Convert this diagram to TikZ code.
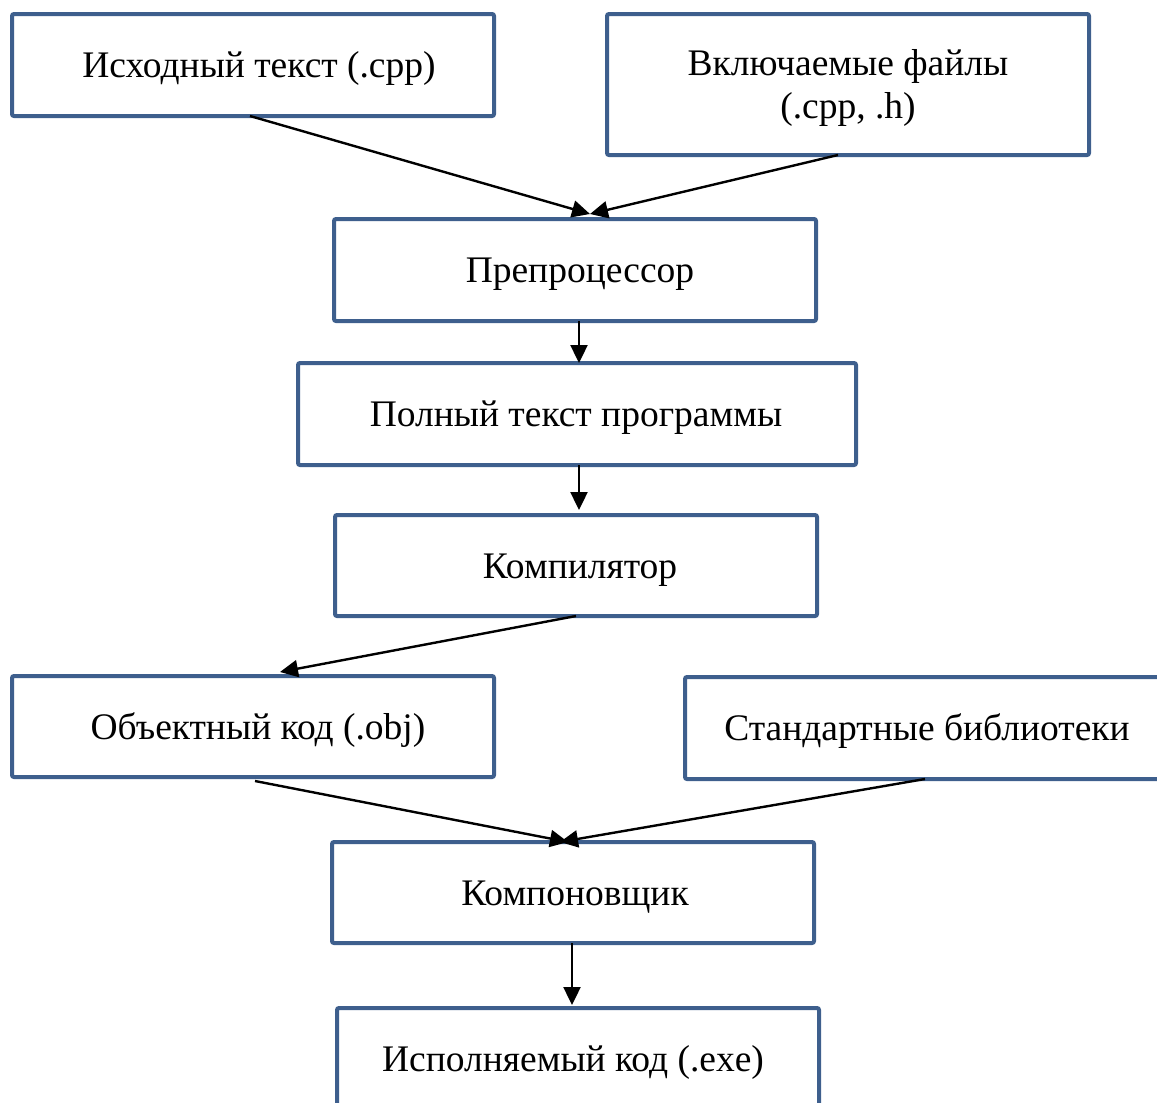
\documentclass[tikz,border=0pt]{standalone}
\usepackage{fontspec}
\setmainfont{Liberation Serif}
\usetikzlibrary{arrows.meta}
\definecolor{boxblue}{RGB}{62,95,141}
\newcommand{\boxtext}[2][0pt]{\hspace*{#1}\raisebox{-4pt}[\height][\depth]{\begin{tabular}{@{}c@{}}#2\end{tabular}}\hspace*{-#1}}
\begin{document}
\begin{tikzpicture}[x=1pt,y=-1pt,
  box/.style={draw=boxblue,line width=4pt,rounded corners=2pt,fill=white,
    minimum width=482pt,minimum height=102pt,inner sep=0pt,outer sep=0pt,
    font=\fontsize{37.5}{43}\selectfont,align=center},
  arr/.style={line width=2.4pt,-{Triangle[length=18pt,width=17pt]}}]
\useasboundingbox (0,0) rectangle (1157,1103);
\clip (0,0) rectangle (1157,1103);
\node[box] (src) at (253,65) {\boxtext[6pt]{Исходный текст (.cpp)}};
\node[box,minimum height=141pt] (inc) at (848,84.5) {\boxtext{Включаемые файлы\\(.cpp, .h)}};
\node[box] (pre) at (575,270) {\boxtext[5pt]{Препроцессор}};
\node[box,minimum width=558pt] (full) at (577,414) {\boxtext[-1pt]{Полный текст программы}};
\node[box,minimum height=101pt] (comp) at (576,565.5) {\boxtext[4pt]{Компилятор}};
\node[box,minimum height=101pt] (obj) at (253,726.5) {\boxtext[5pt]{Объектный код (.obj)}};
\node[box,minimum width=484pt] (lib) at (927,728) {\boxtext{Стандартные библиотеки}};
\node[box,minimum height=101pt] (link) at (573,892.5) {\boxtext[2pt]{Компоновщик}};
\node[box] (exe) at (578,1059) {\boxtext[-5pt]{Исполняемый код (.exe)}};
\draw[arr] ([xshift=-3pt]src.south) -- ([xshift=15pt,yshift=5pt]pre.north);
\draw[arr] ([xshift=-10pt]inc.south) -- ([xshift=15pt,yshift=5pt]pre.north);
\draw[arr] ([xshift=4pt]pre.south) -- ([xshift=2pt]full.north);
\draw[arr] ([xshift=2pt]full.south) -- ([xshift=3pt,yshift=5pt]comp.north);
\draw[arr] (comp.south) -- ([xshift=27pt,yshift=4pt]obj.north);
\draw[arr] ([xshift=2pt,yshift=-4pt]obj.south) -- ([xshift=-5pt]link.north);
\draw[arr] ([xshift=-2pt]lib.south) -- ([xshift=-13pt]link.north);
\draw[arr] ([xshift=-1pt]link.south) -- ([xshift=-6pt,yshift=3pt]exe.north);
\end{tikzpicture}
\end{document}
